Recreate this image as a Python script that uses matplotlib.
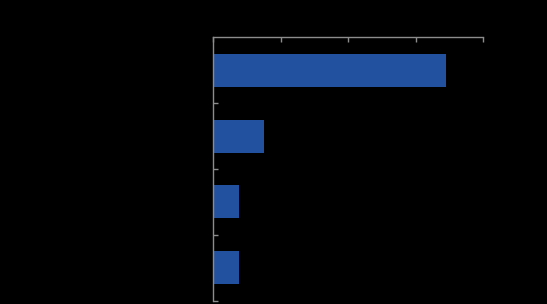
import matplotlib
matplotlib.use("Agg")
import matplotlib.pyplot as plt
import numpy as np
from matplotlib.ticker import FixedLocator, PercentFormatter

categories = ["Category 1", "Category 2", "Category 3", "Category 4"]
values = [68.9, 15.0, 7.6, 7.6]
xticks = [0, 20, 40, 60, 80]

fig = plt.figure(figsize=(5.47, 3.04), dpi=100, facecolor="black")
ax = fig.add_axes([213.3/547, 1-300.7/304, (483.3-213.3)/547, (300.7-37.3)/304])
ax.set_facecolor("black")

y = np.arange(len(categories))
ax.barh(y, values, height=0.5, color="#2251A0")
ax.set_ylim(len(categories)-0.5, -0.5)
ax.set_xlim(0, 80)

ax.xaxis.tick_top()
ax.set_xticks(xticks)
ax.xaxis.set_major_formatter(PercentFormatter(decimals=0))
ax.tick_params(axis="x", direction="in", length=3.5, width=1, color="#8c8c8c",
               labelcolor="black", labelsize=8)

ax.yaxis.set_major_locator(FixedLocator(y + 0.5))
ax.yaxis.set_minor_locator(FixedLocator(y))
ax.set_yticklabels([], minor=False)
ax.set_yticklabels(categories, minor=True)
ax.tick_params(axis="y", which="major", direction="in", length=3.5, width=1, color="#8c8c8c")
ax.tick_params(axis="y", which="minor", length=0, labelcolor="black", labelsize=8)

for s in ["right", "bottom"]:
    ax.spines[s].set_visible(False)
for s in ["top", "left"]:
    ax.spines[s].set_color("#8c8c8c")
    ax.spines[s].set_linewidth(1)

fig.savefig("out.png", dpi=100, facecolor="black")
